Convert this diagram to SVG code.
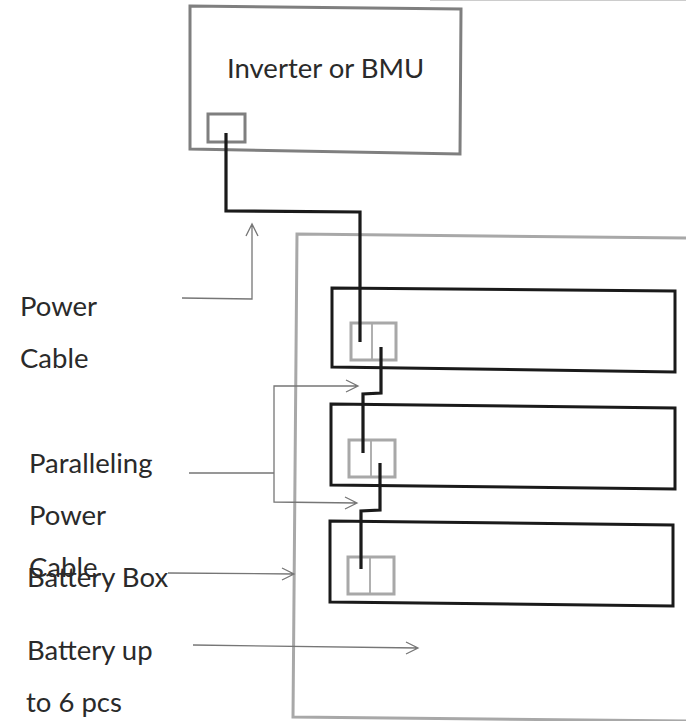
<svg xmlns="http://www.w3.org/2000/svg" width="686" height="721" viewBox="0 0 686 721">
<style>
.t{font-family:"Lato","Open Sans","Liberation Sans",sans-serif;font-size:27.5px;fill:#2a2a2a}
.g{fill:none;stroke:#7f7f7f;stroke-width:3}
.s{fill:none;stroke:#a8a8a8;stroke-width:3}
.d{fill:none;stroke:#a8a8a8;stroke-width:1.8}
.b{fill:none;stroke:#1a1a1a;stroke-width:3}
.c{fill:none;stroke:#1a1a1a;stroke-width:3.2}
.a{fill:none;stroke:#767676;stroke-width:1.3}
</style>
<rect width="686" height="721" fill="#fff"/>
<path d="M430 0H686" stroke="#999" stroke-width="1" fill="none"/>
<g id="battery-box"><path class="s" d="M686 238L297 234L293 717L686 721"/></g>
<g id="inverter">
<path class="g" d="M190 6L461 9L460 154L190 149Z"/>
<rect class="g" x="208" y="114" width="37" height="28"/>
<text class="t" x="227" y="78">Inverter or BMU</text>
</g>
<g id="battery-1">
<path class="b" d="M332 288L675 291V372L332 367Z"/>
<path class="s" d="M351 323H396V360H351Z"/><path class="d" d="M372 323V360"/>
</g>
<g id="battery-2">
<path class="b" d="M331 404L675 408V489L331 485Z"/>
<path class="s" d="M349 440H395V477H349Z"/><path class="d" d="M371 440V477"/>
</g>
<g id="battery-3">
<path class="b" d="M330 521L673 525V606L330 602Z"/>
<path class="s" d="M348 557H394V594H348Z"/><path class="d" d="M370 557V594"/>
</g>
<g id="connectors">
<path class="c" d="M226 133V211L360 212V342"/>
<path class="c" d="M381 347V393L363 394V453"/>
<path class="c" d="M380 463V510L361 511V569"/>
<path class="a" d="M182 298L252 299V224M246 236L252 224L258 236"/>
<path class="a" d="M189 473H274M358 386H274V502L357 503M346 380L358 386L346 392M345 497L357 503L345 509"/>
<path class="a" d="M168 573L294 574M282 568L294 574L282 580"/>
<path class="a" d="M193 645L418 648M406 642L418 648L406 654"/>
</g>
<g id="labels">
<text class="t" x="20" y="316">Power</text>
<text class="t" x="20" y="368">Cable</text>
<text class="t" x="29" y="473">Paralleling</text>
<text class="t" x="29" y="525">Power</text>
<text class="t" x="29" y="577">Cable</text>
<text class="t" x="27" y="587">Battery Box</text>
<text class="t" x="27" y="660">Battery up</text>
<text class="t" x="26" y="712">to 6 pcs</text>
</g>
</svg>
